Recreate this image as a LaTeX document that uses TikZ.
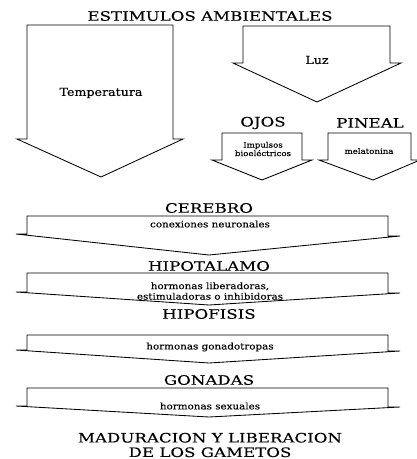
\documentclass[tikz,border=0pt]{standalone}
\usepackage{fontspec}
\setmainfont[FakeStretch=1.15,FakeBold=0.2]{DejaVu Serif}
\newfontfamily\headfont[FakeStretch=1.28,FakeBold=0.1]{DejaVu Serif}
\usepackage{tikz}

\begin{document}
\begin{tikzpicture}[x=1pt,y=-1pt,line width=0.85pt,
    head/.style={font=\headfont\fontsize{13}{14.5}\selectfont,inner sep=0pt,align=center},
    big/.style={font=\fontsize{11}{12}\selectfont,inner sep=0pt,align=center},
    txt/.style={font=\fontsize{9}{10.5}\selectfont,inner sep=0pt,align=center},
    tiny/.style={font=\fontsize{7.5}{8.5}\selectfont,inner sep=0pt,align=center}]
  \useasboundingbox (0,0) rectangle (417,459);
  % stimuli
  \node(estim) at (210,16)[head]{ESTIMULOS AMBIENTALES};
  \draw (27,25) -- (27,139) -- (17,139) -- (101,177) -- (183,139) -- (173,139) -- (173,25) -- cycle;
  \node(temp) at (101,93)[big]{Temperatura};
  \draw (243,26) -- (243,63) -- (233,63) -- (317,102) -- (401,63) -- (390,63) -- (390,26) -- cycle;
  \node(luz) at (317,60)[big]{Luz};
  % ojos, pineal
  \node(ojos) at (263,123)[head]{OJOS};
  \node(pineal) at (370,123)[head]{PINEAL};
  \draw (222,133) -- (222,160) -- (212,160) -- (262,180) -- (312,160) -- (302,160) -- (302,133) -- cycle;
  \node(impulsos) at (263,149)[tiny]{Impulsos\\bioeléctricos};
  \draw (328,133) -- (328,160) -- (319,160) -- (373,180) -- (420,160) -- (411,160) -- (411,133) -- cycle;
  \node(melat) at (369,151)[tiny]{melatonina};
  % chain
  \node(cerebro) at (209,208)[head]{CEREBRO};
  \draw (27,216) -- (27,234) -- (16,234) -- (209,255) -- (400,236) -- (388,236) -- (388,216) -- cycle;
  \node(conex) at (210,224)[txt]{conexiones neuronales};
  \node(hipot) at (209,266)[head]{HIPOTALAMO};
  \draw (27,273) -- (27,292) -- (16,292) -- (209,305) -- (400,293) -- (388,293) -- (388,273) -- cycle;
  \node(liber) at (210,291)[txt]{hormonas liberadoras,\\estimuladoras o inhibidoras};
  \node(hipof) at (209,314)[head]{HIPOFISIS};
  \draw (27,335) -- (27,350) -- (16,350) -- (209,363) -- (400,351) -- (388,351) -- (388,335) -- cycle;
  \node(gonadot) at (210,347)[txt]{hormonas gonadotropas};
  \node(gonadas) at (209,380)[head]{GONADAS};
  \draw (27,388) -- (27,406) -- (16,406) -- (209,417) -- (400,407) -- (388,407) -- (388,388) -- cycle;
  \node(sexual) at (210,406)[txt]{hormonas sexuales};
  \node(madur) at (210,445)[head]{MADURACION Y LIBERACION\\DE LOS GAMETOS};
\end{tikzpicture}
\end{document}
